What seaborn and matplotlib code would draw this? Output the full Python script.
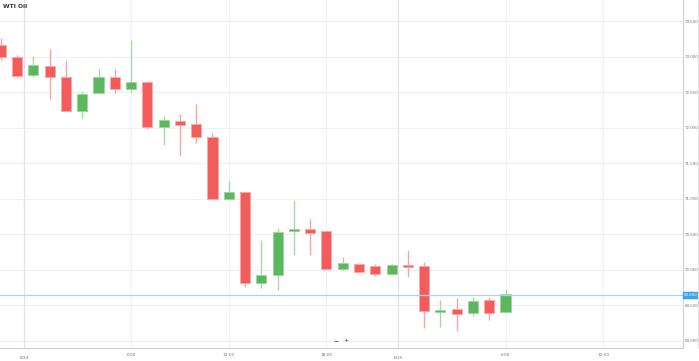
import matplotlib
matplotlib.use("Agg")
import matplotlib.pyplot as plt
import seaborn as sns
import pandas as pd
import numpy as np
from matplotlib.lines import Line2D

# ---- data (hourly candles) ----
opens  = [73.17, 73.00, 72.75, 72.87, 72.72, 72.24, 72.49, 72.72, 72.55, 72.65,
          72.01, 72.10, 72.06, 71.87, 71.00, 71.10, 69.82, 69.93, 70.55, 70.58,
          70.55, 70.01, 70.08, 70.06, 69.94, 70.07, 70.06, 69.41, 69.45, 69.39,
          69.58, 69.41]
closes = [73.00, 72.73, 72.89, 72.72, 72.24, 72.48, 72.72, 72.54, 72.65, 72.01,
          72.11, 72.04, 71.87, 71.00, 71.10, 69.82, 69.93, 70.54, 70.58, 70.52,
          70.01, 70.10, 69.97, 69.94, 70.07, 70.04, 69.42, 69.44, 69.38, 69.56,
          69.39, 69.66]
highs  = [73.27, 73.03, 73.01, 73.11, 72.96, 72.52, 72.83, 72.83, 73.23, 72.66,
          72.17, 72.20, 72.34, 71.93, 71.25, 71.10, 70.42, 70.59, 70.99, 70.72,
          70.55, 70.18, 70.10, 70.08, 70.08, 70.28, 70.11, 69.58, 69.61, 69.62,
          69.62, 69.73]
lows   = [72.96, 72.70, 72.72, 72.41, 72.24, 72.14, 72.49, 72.49, 72.51, 71.99,
          71.76, 71.61, 71.79, 71.00, 70.99, 69.76, 69.75, 69.72, 70.21, 70.21,
          70.00, 70.00, 69.96, 69.92, 69.93, 69.90, 69.18, 69.20, 69.14, 69.35,
          69.30, 69.39]
current_price = 69.65
y_ticks = [69.0, 69.5, 70.0, 70.5, 71.0, 71.5, 72.0, 72.5, 73.0, 73.5]
time_tick_pos = [8, 14, 20, 31, 37]
time_tick_labels = ["6:00", "12:00", "18:00", "6:00", "12:00"]
date_tick_pos = [1.43, 24.4]
date_tick_labels = ["6/24", "6/25"]
title = "WTI Oil"

df = pd.DataFrame({"open": opens, "close": closes, "high": highs, "low": lows})
df["idx"] = np.arange(len(df))
df["up"] = df["close"] >= df["open"]

sns.set_theme(style="white")
plt.rcParams["font.family"] = ["DejaVu Sans"]

W, H = 699, 361
fig = plt.figure(figsize=(W / 100, H / 100), dpi=100)
ax = fig.add_axes([0, 13 / H, 683 / W, 348 / H])

red = "#f45b5b"
green = "#5cb85c"
red_w = "#f9a3a3"
green_w = "#a6d9a6"

# grid
for yt in y_ticks:
    ax.axhline(yt, color="#f0f0f0", lw=0.8, zorder=0)
for xt in time_tick_pos:
    ax.axvline(xt, color="#f2f2f2", lw=0.8, zorder=0)
for xt in date_tick_pos:
    ax.axvline(xt, color="#e2e2e2", lw=0.9, zorder=0)

# wicks
for _, r in df.iterrows():
    ax.vlines(r["idx"], r["low"], r["high"], color=green_w if r["up"] else red_w,
              lw=1.0, zorder=1)
# bodies
bw = 0.62
for _, r in df.iterrows():
    lo = min(r["open"], r["close"])
    h = max(abs(r["close"] - r["open"]), 0.025)
    c = green if r["up"] else red
    ec = "#9dd49d" if r["up"] else "#f8a9a9"
    ax.bar(r["idx"], h, bottom=lo, width=bw, color=c, edgecolor=ec, lw=0.6, zorder=2)

# current price
ax.axhline(current_price, color="#a9d3f5", lw=0.9, zorder=3)

ax.set_xlim(-0.05, 41.9)
ax.set_ylim(68.90, 73.80)

for s in ["top", "left"]:
    ax.spines[s].set_visible(False)
for s in ["right", "bottom"]:
    ax.spines[s].set_color("#cfcfcf")
    ax.spines[s].set_linewidth(0.8)

ax.yaxis.tick_right()
ax.set_yticks(y_ticks)
ax.set_yticklabels([f"{v:.3f}" for v in y_ticks])
ax.tick_params(axis="y", length=0, pad=1.2, labelsize=2.9, labelcolor="#777777")

ax.set_xticks(time_tick_pos)
ax.set_xticklabels(time_tick_labels)
ax.set_xticks(date_tick_pos, minor=True)
ax.set_xticklabels(date_tick_labels, minor=True)
ax.tick_params(axis="x", which="major", length=2.5, width=0.6, color="#d8d8d8",
               pad=0.8, labelsize=3.1, labelcolor="#777777")
ax.tick_params(axis="x", which="minor", length=2.5, width=0.6, color="#d8d8d8",
               pad=3.6, labelsize=3.1, labelcolor="#777777")

# current price label box
ax.text(1.0015, (current_price - 68.90) / (73.80 - 68.90), f"{current_price:.3f}",
        transform=ax.transAxes, ha="left", va="center", fontsize=2.9, color="white",
        bbox=dict(boxstyle="square,pad=0.2", fc="#3da0ec", ec="#3da0ec"), clip_on=False,
        zorder=5)

# title
fig.text(3 / W, 1 - 7 / H, title, ha="left", va="center", fontsize=4.3,
         color="#333333", fontweight="bold")

# zoom buttons
fig.text(336 / W, 1 - 341 / H, "\u2212", ha="center", va="center", fontsize=4.5, color="#444444")
fig.text(346 / W, 1 - 341 / H, "+", ha="center", va="center", fontsize=4.5, color="#444444")

# outer right frame line
fig.add_artist(Line2D([697.5 / W, 697.5 / W], [13 / H, 1], color="#e0e0e0", lw=0.8))

fig.savefig("out.png", dpi=100)
